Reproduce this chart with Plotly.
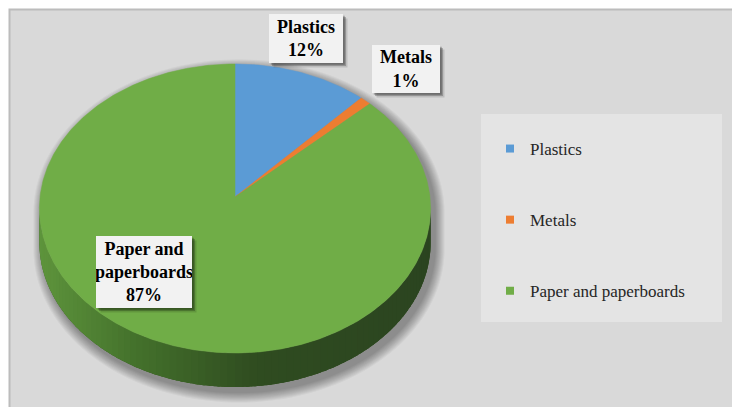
import math
import plotly.graph_objects as go

# --- data -------------------------------------------------------------
categories = ["Plastics", "Metals", "Paper and paperboards"]
shares = [12, 1, 87]                      # percent of total
box_names = ["Plastics", "Metals", "Paper and<br>paperboards"]
colors = ["#5b9bd5", "#ed7d31", "#70ad47"]

SERIF = "Liberation Serif, Times New Roman, DejaVu Serif, serif"

# --- 3-D pie geometry (pixel space, y grows downward) ------------------
W, H = 732, 407
CX, CY = 235.0, 197.0      # projected centre of the disc
RX, RY = 195.0, 143.6      # horizontal / depth radius
PERSP = 0.0796             # perspective strength (far side smaller)
DEPTH = 34.0               # thickness of the disc


def proj(theta_deg):
    """Point on the disc rim; angle clockwise from 12 o'clock."""
    t = math.radians(theta_deg)
    X, Y = math.sin(t), math.cos(t)
    s = 1.0 + PERSP * Y
    return CX + RX * X / s, CY - RY * Y / s


def arc(a0, a1, step=0.5):
    n = max(2, int(abs(a1 - a0) / step) + 1)
    return [proj(a0 + (a1 - a0) * i / (n - 1)) for i in range(n)]


def hull(pts):
    pts = sorted(set(pts))

    def cross(o, a, b):
        return (a[0] - o[0]) * (b[1] - o[1]) - (a[1] - o[1]) * (b[0] - o[0])

    lo, up = [], []
    for p in pts:
        while len(lo) >= 2 and cross(lo[-2], lo[-1], p) <= 0:
            lo.pop()
        lo.append(p)
    for p in reversed(pts):
        while len(up) >= 2 and cross(up[-2], up[-1], p) <= 0:
            up.pop()
        up.append(p)
    return lo[:-1] + up[:-1]


def mix(c1, c2, t):
    a = [int(c1[i:i + 2], 16) for i in (1, 3, 5)]
    b = [int(c2[i:i + 2], 16) for i in (1, 3, 5)]
    return "rgb(%d,%d,%d)" % tuple(round(a[k] + (b[k] - a[k]) * t) for k in range(3))


def closed(pts):
    return [p[0] for p in pts] + [pts[0][0]], [p[1] for p in pts] + [pts[0][1]]


fig = go.Figure()

# soft drop shadow under the whole disc
rim = arc(0, 360, 2)
sil = hull(rim + [(x, y + DEPTH) for x, y in rim])
scx = sum(p[0] for p in sil) / len(sil)
scy = sum(p[1] for p in sil) / len(sil)
for k in range(10, 0, -1):
    fx, fy = 1 + k / 196.0, 1 + k / 160.0
    pts = [(scx + (x - scx) * fx + 4, scy + (y - scy) * fy + 5) for x, y in sil]
    xs, ys = closed(pts)
    fig.add_trace(go.Scatter(x=xs, y=ys, mode="none", fill="toself",
                             fillcolor="rgba(0,0,0,0.04)",
                             hoverinfo="skip", showlegend=False))

# visible side wall: lower rim between the two horizontal extremes
full = arc(0, 360, 0.5)
i_r = max(range(len(full)), key=lambda i: full[i][0])
i_l = min(range(len(full)), key=lambda i: full[i][0])
lower = full[i_r:i_l + 1]
x_min, x_max = full[i_l][0], full[i_r][0]
side_stops = [(0.0, "#5e943c"), (0.25, "#43702b"), (0.55, "#2f4c20"), (1.0, "#2b4420")]


def side_color(x):
    t = (x - x_min) / (x_max - x_min)
    for (t0, c0), (t1, c1) in zip(side_stops, side_stops[1:]):
        if t0 <= t <= t1:
            return mix(c0, c1, (t - t0) / (t1 - t0))
    return side_stops[-1][1]


# base wall in one colour, then shaded strips on top of it
wall = lower + [(x, y + DEPTH) for x, y in reversed(lower)]
xs, ys = closed(wall)
fig.add_trace(go.Scatter(x=xs, y=ys, mode="none", fill="toself", fillcolor="#34561f",
                         hoverinfo="skip", showlegend=False))
seg = 4
for j in range(0, len(lower) - 1, seg):
    part = lower[max(0, j - 1):j + seg + 2]
    xm = sum(p[0] for p in part) / len(part)
    col = side_color(xm)
    poly = part + [(x, y + DEPTH) for x, y in reversed(part)]
    xs, ys = closed(poly)
    fig.add_trace(go.Scatter(x=xs, y=ys, mode="none", fill="toself", fillcolor=col,
                             hoverinfo="skip", showlegend=False))

# top face wedges, starting at 12 o'clock, clockwise
total = float(sum(shares))
start = 0.0
for name, val, col in zip(categories, shares, colors):
    end = start + 360.0 * val / total
    pts = [(CX, CY)] + arc(start, end) + [(CX, CY)]
    fig.add_trace(go.Scatter(
        x=[p[0] for p in pts], y=[p[1] for p in pts],
        mode="lines", line=dict(color=col, width=0.5), fill="toself", fillcolor=col,
        name=name, hoverinfo="name", showlegend=False))
    start = end

# legend entries (square swatches)
for i, (name, col) in enumerate(zip(categories, colors)):
    fig.add_trace(go.Scatter(
        x=[None], y=[None], mode="markers", name=name, legendgroup="g%d" % i,
        marker=dict(symbol="square", size=8, color=col)))

# --- chart frame, legend panel, data-label boxes -----------------------
shapes = [
    dict(type="rect", xref="x", yref="y", x0=9.5, y0=9.5, x1=W + 5, y1=H + 5,
         fillcolor="#d9d9d9", line=dict(color="#bcbcbc", width=2), layer="below"),
    dict(type="rect", xref="x", yref="y", x0=481, y0=114, x1=722, y1=322,
         fillcolor="#e4e4e4", line=dict(width=0), layer="below"),
]

label_boxes = [  # (centre x, centre y, width, height)
    (306, 38.5, 74, 49),
    (406, 69, 68, 48),
    (144, 272, 96, 72),
]
annotations = []
for (bx, by, bw, bh), nm, val in zip(label_boxes, box_names, shares):
    for off, alpha in ((4.5, 0.13), (3.0, 0.22), (1.8, 0.25)):
        shapes.append(dict(type="rect", xref="x", yref="y",
                           x0=bx - bw / 2 + off, x1=bx + bw / 2 + off,
                           y0=by - bh / 2 + off, y1=by + bh / 2 + off,
                           fillcolor="rgba(0,0,0,%.2f)" % alpha, line=dict(width=0),
                           layer="above"))
    annotations.append(dict(
        x=bx, y=by, xref="x", yref="y", showarrow=False,
        text="<b>%s<br>%d%%</b>" % (nm, val),
        font=dict(family=SERIF, size=18, color="#000000"),
        align="center", width=bw, height=bh, borderpad=0, borderwidth=0,
        bgcolor="#f2f2f2", xanchor="center", yanchor="middle"))

fig.update_layout(
    width=W, height=H,
    margin=dict(l=0, r=0, t=0, b=0),
    paper_bgcolor="#ffffff", plot_bgcolor="#ffffff",
    xaxis=dict(range=[0, W], visible=False, fixedrange=True),
    yaxis=dict(range=[H, 0], visible=False, fixedrange=True),
    shapes=shapes, annotations=annotations,
    showlegend=True,
    legend=dict(x=490 / W, y=1 - 131 / H, xanchor="left", yanchor="top",
                bgcolor="rgba(0,0,0,0)", tracegroupgap=46,
                font=dict(family=SERIF, size=17, color="#262626")),
)

fig.write_html("out.html")
